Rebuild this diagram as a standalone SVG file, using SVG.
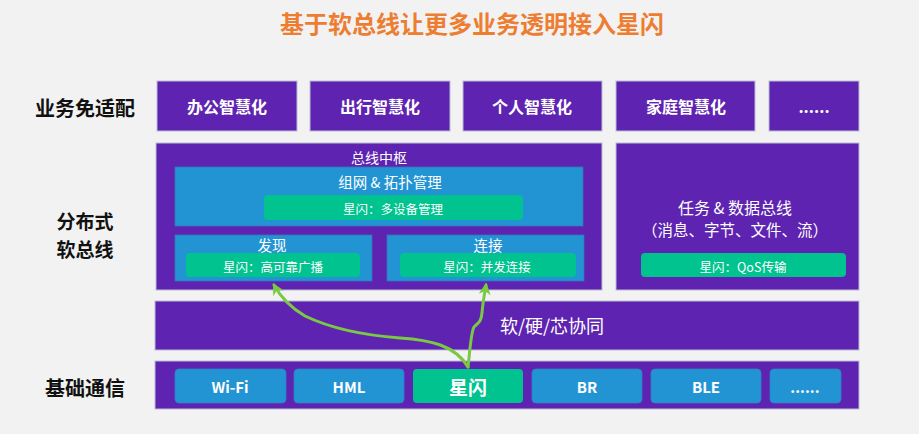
<svg xmlns="http://www.w3.org/2000/svg" width="919" height="434" viewBox="0 0 919 434">
<defs>
<style>
text{font-family:"Noto Sans CJK SC","Noto Sans",sans-serif;text-anchor:middle;dominant-baseline:central;}
.pur{fill:#5E24B1;stroke:#B9BDD3;stroke-width:1;}
.blu{fill:#2394D3;stroke:#3A6FB8;stroke-width:0.8;}
.grn{fill:#00C38F;}
.btn{fill:#2394D3;stroke:#2E7FC4;stroke-width:0.8;}
.side{font-size:20px;font-weight:bold;fill:#111;}
.top{font-size:16px;font-weight:bold;fill:#fff;}
.w{fill:#fff;}
.pill{font-size:12.5px;fill:#fff;}
.bt{font-size:15px;font-weight:bold;fill:#fff;}
.conn{fill:none;stroke:#7AC943;stroke-width:3;stroke-linecap:round;}
</style>
<marker id="ah" viewBox="0 0 10 10" refX="8" refY="5" markerWidth="4" markerHeight="4" orient="auto-start-reverse" markerUnits="strokeWidth">
<path d="M0,0 L10,5 L0,10 L3,5 Z" fill="#7AC943"/>
</marker>
</defs>
<rect width="919" height="434" fill="#F2F2F2"/>

<text id="title" x="472" y="22" style="font-size:24px;font-weight:bold;fill:#ED7D31;">基于软总线让更多业务透明接入星闪</text>

<g id="labels">
<text class="side" x="85" y="107">业务免适配</text>
<text class="side" x="85" y="220" style="font-size:19px;">分布式</text>
<text class="side" x="85" y="248" style="font-size:19px;">软总线</text>
<text class="side" x="85" y="387">基础通信</text>
</g>

<g id="app-office"><rect class="pur" x="157" y="81" width="140" height="50"/><text class="top" x="227" y="106">办公智慧化</text></g>
<g id="app-travel"><rect class="pur" x="310" y="81" width="140" height="50"/><text class="top" x="380" y="106">出行智慧化</text></g>
<g id="app-personal"><rect class="pur" x="463" y="81" width="139" height="50"/><text class="top" x="532" y="106">个人智慧化</text></g>
<g id="app-home"><rect class="pur" x="616" y="81" width="139" height="50"/><text class="top" x="686" y="106">家庭智慧化</text></g>
<g id="app-more"><rect class="pur" x="769" y="81" width="90" height="50"/><text class="top" x="814" y="106">......</text></g>

<g id="bus-hub">
<rect class="pur" x="156" y="143" width="446" height="147"/>
<text class="w" x="379" y="157" style="font-size:14px;">总线中枢</text>
</g>
<g id="networking">
<rect class="blu" x="175" y="167" width="408" height="59"/>
<text class="w" x="390" y="181" style="font-size:14.5px;">组网 &amp; 拓扑管理</text>
<rect class="grn" x="264" y="195" width="259" height="25" rx="4"/>
<text class="pill" x="393" y="208">星闪：多设备管理</text>
</g>
<g id="discovery">
<rect class="blu" x="175" y="235" width="197" height="46"/>
<text class="w" x="272" y="244" style="font-size:14.5px;">发现</text>
<rect class="grn" x="186" y="253" width="174" height="24" rx="4"/>
<text class="pill" x="273" y="266">星闪：高可靠广播</text>
</g>
<g id="connection">
<rect class="blu" x="387" y="235" width="197" height="46"/>
<text class="w" x="488" y="244" style="font-size:14.5px;">连接</text>
<rect class="grn" x="400" y="253" width="176" height="24" rx="4"/>
<text class="pill" x="487" y="266">星闪：并发连接</text>
</g>

<g id="data-bus">
<rect class="pur" x="616" y="143" width="243" height="147"/>
<text class="w" x="735" y="207" style="font-size:16px;">任务 &amp; 数据总线</text>
<text class="w" x="735" y="229" style="font-size:15.5px;">（消息、字节、文件、流）</text>
<rect class="grn" x="641" y="253" width="205" height="24" rx="4"/>
<text class="pill" x="743" y="266">星闪：QoS传输</text>
</g>

<g id="cooperation">
<rect class="pur" x="155" y="301" width="704" height="49"/>
<text class="w" x="552" y="325" style="font-size:18px;">软/硬/芯协同</text>
</g>

<g id="basic-comm">
<rect class="pur" x="155" y="361" width="704" height="48"/>
</g>
<g id="wifi"><rect class="btn" x="175" y="369" width="111" height="34" rx="4"/><text class="bt" x="230" y="386">Wi-Fi</text></g>
<g id="hml"><rect class="btn" x="294" y="369" width="110" height="34" rx="4"/><text class="bt" x="349" y="386">HML</text></g>
<g id="nearlink"><rect class="grn" x="413" y="369" width="110" height="34" rx="4"/><text class="bt" x="468" y="386" style="font-size:19px;">星闪</text></g>
<g id="br"><rect class="btn" x="532" y="369" width="110" height="34" rx="4"/><text class="bt" x="587" y="386">BR</text></g>
<g id="ble"><rect class="btn" x="651" y="369" width="110" height="34" rx="4"/><text class="bt" x="706" y="386">BLE</text></g>
<g id="more"><rect class="btn" x="770" y="369" width="71" height="34" rx="4"/><text class="bt" x="805" y="386">......</text></g>

<g id="connectors">
<path class="conn" d="M468,367 C455,345 430,340 400,338 C360,335 330,328 305,316 C288,306 280,296 274,285" marker-end="url(#ah)"/>
<path class="conn" d="M468,367 C470,350 471,332 474,327 C479,322 481,322 482,313 C483,300 485,292 486,285" marker-end="url(#ah)"/>
</g>
</svg>
